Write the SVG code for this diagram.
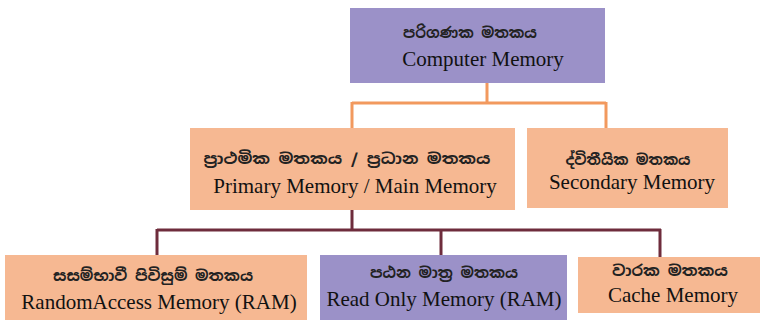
<svg xmlns="http://www.w3.org/2000/svg" width="766" height="320" viewBox="0 0 766 320">
<style>
.bg{fill:#ffffff}
.purple{fill:#9b91c8}
.orange{fill:#f6b892}
.en{font-family:"Liberation Serif","Times New Roman",serif;font-size:21px;fill:#111;text-anchor:middle}
.si{font-family:"Noto Sans Sinhala","Noto Serif Sinhala","Noto Sans","DejaVu Sans",sans-serif;font-size:15px;font-weight:bold;fill:#222;text-anchor:middle}
.c1{stroke:#f2995e;stroke-width:3;fill:none}
.c2{stroke:#6e2c3c;stroke-width:3;fill:none}
</style>
<rect class="bg" x="0" y="0" width="766" height="320"/>
<g id="connectors">
  <path class="c1" d="M487 83 V103 M352 103 H606 M352 102 V128 M606 102 V128"/>
  <path class="c2" d="M352 210 V230 M157 230 H661 M157 229 V255 M441 229 V255 M660 229 V257"/>
</g>
<g id="computer-memory">
  <rect class="purple" x="350" y="8" width="255" height="75"/>
  <text class="si" x="470" y="38" textLength="134" lengthAdjust="spacingAndGlyphs">පරිගණක මතකය</text>
  <text class="en" x="483" y="66">Computer Memory</text>
</g>
<g id="primary-memory">
  <rect class="orange" x="190" y="128" width="325" height="82"/>
  <text class="si" x="347" y="164" textLength="287" lengthAdjust="spacingAndGlyphs">ප්‍රාථමික මතකය / ප්‍රධාන මතකය</text>
  <text class="en" x="355" y="193">Primary Memory / Main Memory</text>
</g>
<g id="secondary-memory">
  <rect class="orange" x="527" y="128" width="201" height="80"/>
  <text class="si" x="628" y="165" textLength="125" lengthAdjust="spacingAndGlyphs">ද්විතීයික මතකය</text>
  <text class="en" x="632" y="189">Secondary Memory</text>
</g>
<g id="ram">
  <rect class="orange" x="5" y="255" width="302" height="65"/>
  <text class="si" x="153" y="281" textLength="200" lengthAdjust="spacingAndGlyphs">සසම්භාවී පිවිසුම් මතකය</text>
  <text class="en" x="159" y="309">RandomAccess Memory (RAM)</text>
</g>
<g id="rom">
  <rect class="purple" x="320" y="255" width="247" height="65"/>
  <text class="si" x="444" y="278" textLength="148" lengthAdjust="spacingAndGlyphs">පඨන මාත්‍ර මතකය</text>
  <text class="en" x="444" y="306">Read Only Memory (RAM)</text>
</g>
<g id="cache">
  <rect class="orange" x="578" y="257" width="182" height="56"/>
  <text class="si" x="670" y="276" textLength="116" lengthAdjust="spacingAndGlyphs">වාරක මතකය</text>
  <text class="en" x="673" y="302">Cache Memory</text>
</g>
</svg>
